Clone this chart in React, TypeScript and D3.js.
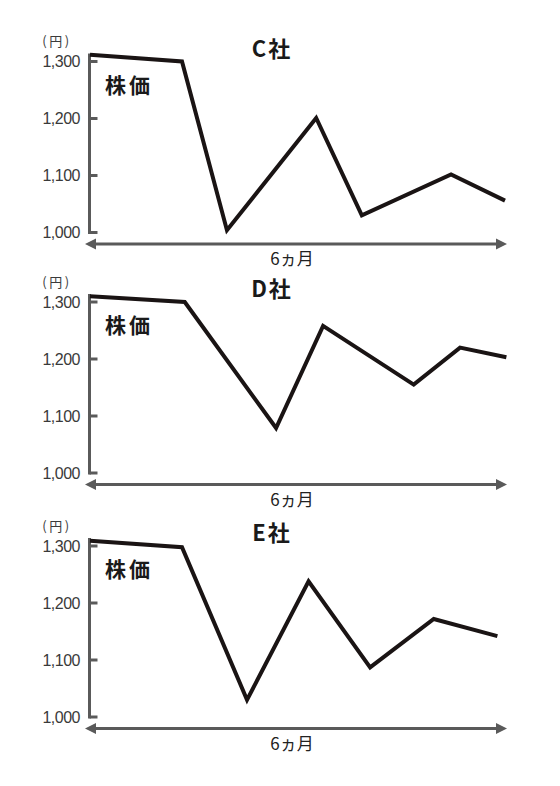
import * as d3 from 'd3';

// months from start (x) and share price in yen (y)
const COMPANIES = ['C社', 'D社', 'E社'];
const MONTHS_C = [0, 1.33, 1.98, 3.27, 3.93, 5.22, 6];
const PRICE_C = [1312, 1300, 1004, 1201, 1030, 1102, 1056];
const MONTHS_D = [0, 1.37, 2.69, 3.37, 4.68, 5.35, 6.02];
const PRICE_D = [1310, 1300, 1079, 1258, 1155, 1220, 1203];
const MONTHS_E = [0, 1.33, 2.27, 3.16, 4.05, 4.97, 5.89];
const PRICE_E = [1309, 1298, 1030, 1238, 1087, 1172, 1142];
const Y_TICKS = [1000, 1100, 1200, 1300];
const X_LABEL = '6ヵ月';
const Y_UNIT = '(円)';
const SERIES_LABEL = '株価';

const W = 560;
const H = 786;
const PANEL_BOTTOMS = [232.5, 473, 717];
const PANEL_H = 171;
const AXIS_X = 89.5;

const JP = '"Noto Sans CJK JP", "Noto Sans", sans-serif';
const NUM = '"Liberation Sans", Arial, sans-serif';
const AXIS_COLOR = '#5a5a5a';

interface PanelProps {
  title: string;
  months: number[];
  prices: number[];
  bottom: number;
}

function Panel({ title, months, prices, bottom }: PanelProps) {
  const x = d3.scaleLinear().domain([0, 6]).range([90, 505]);
  const y = d3.scaleLinear().domain([1000, 1300]).range([bottom, bottom - PANEL_H]);

  const pts = months.map((m, i) => [m, prices[i]] as [number, number]);
  const line = d3
    .line<[number, number]>()
    .x(d => x(d[0]))
    .y(d => y(d[1]));

  const arrowY = y(1000) + 11.5;
  const left = x(0) - 5;
  const right = x(6) + 2;
  const head = 11;
  const half = 5.5;

  return (
    <g>
      {/* y axis */}
      <line
        x1={AXIS_X}
        x2={AXIS_X}
        y1={y(1000) + 1.5}
        y2={y(1314)}
        stroke={AXIS_COLOR}
        strokeWidth={3}
      />
      {Y_TICKS.map(t => (
        <g key={t}>
          <line
            x1={AXIS_X}
            x2={AXIS_X + 8}
            y1={y(t)}
            y2={y(t)}
            stroke={AXIS_COLOR}
            strokeWidth={3}
          />
          <text
            x={80}
            y={y(t)}
            dy="0.36em"
            textAnchor="end"
            fontFamily={NUM}
            fontSize={16}
            letterSpacing={-0.5}
            fill="#3a3a3a"
          >
            {d3.format(',')(t)}
          </text>
        </g>
      ))}
      <text
        x={57}
        y={y(1300) - 20}
        dy="0.38em"
        textAnchor="middle"
        fontFamily={JP}
        fontSize={13}
        letterSpacing={2.5}
        fill="#3a3a3a"
      >
        {Y_UNIT}
      </text>

      {/* x arrow */}
      <line
        x1={left + head - 1}
        x2={right - head + 1}
        y1={arrowY}
        y2={arrowY}
        stroke={AXIS_COLOR}
        strokeWidth={3}
      />
      <path
        d={`M${left},${arrowY}L${left + head},${arrowY - half}L${left + head},${arrowY + half}Z`}
        fill={AXIS_COLOR}
      />
      <path
        d={`M${right},${arrowY}L${right - head},${arrowY - half}L${right - head},${arrowY + half}Z`}
        fill={AXIS_COLOR}
      />
      <text
        x={292}
        y={arrowY + 21}
        textAnchor="middle"
        fontFamily={JP}
        fontSize={17}
        fill="#222"
      >
        {X_LABEL}
      </text>

      {/* labels */}
      <text
        x={272}
        y={y(1300) - 5}
        textAnchor="middle"
        fontFamily={JP}
        fontWeight="bold"
        fontSize={22}
        letterSpacing={2}
        fill="#1a1a1a"
      >
        {title}
      </text>
      <text
        x={105}
        y={y(1300) + 31}
        fontFamily={JP}
        fontWeight="bold"
        fontSize={21}
        letterSpacing={3}
        fill="#1a1a1a"
      >
        {SERIES_LABEL}
      </text>

      {/* price line */}
      <path
        d={line(pts) ?? ''}
        fill="none"
        stroke="#1a1414"
        strokeWidth={4}
        strokeLinejoin="miter"
      />
    </g>
  );
}

export default function App() {
  const series = [
    { months: MONTHS_C, prices: PRICE_C },
    { months: MONTHS_D, prices: PRICE_D },
    { months: MONTHS_E, prices: PRICE_E },
  ];
  return (
    <svg
      width={W}
      height={H}
      style={{ position: 'absolute', left: 0, top: 0, background: '#fff' }}
    >
      {series.map((s, i) => (
        <Panel
          key={COMPANIES[i]}
          title={COMPANIES[i]}
          months={s.months}
          prices={s.prices}
          bottom={PANEL_BOTTOMS[i]}
        />
      ))}
    </svg>
  );
}
